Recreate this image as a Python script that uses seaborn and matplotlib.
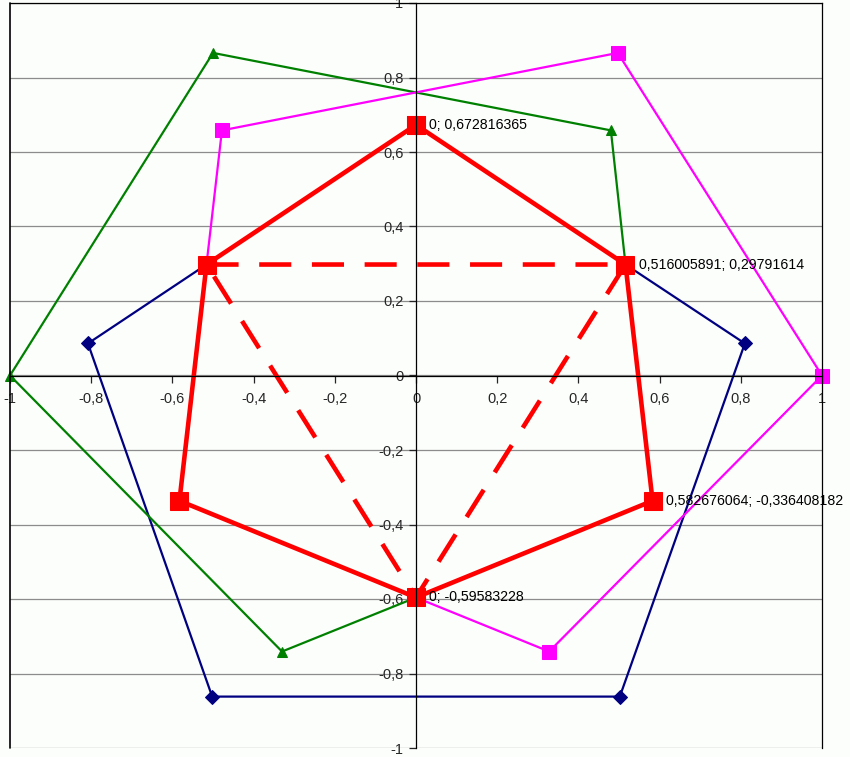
import matplotlib
matplotlib.use('Agg')
import matplotlib.pyplot as plt
import seaborn as sns
from matplotlib.ticker import FuncFormatter, MultipleLocator

# Data
navy_x = [-0.516, -0.808, -0.502, 0.502, 0.810, 0.516]
navy_y = [0.298, 0.086, -0.862, -0.862, 0.086, 0.298]

green_x = [0.516, 0.480, -0.500, -1.000, -0.330, 0.000]
green_y = [0.298, 0.658, 0.866, 0.000, -0.741, -0.596]

magenta_x = [-0.516, -0.478, 0.497, 1.000, 0.328, 0.000]
magenta_y = [0.298, 0.658, 0.866, 0.000, -0.741, -0.596]

red_x = [0.0, 0.516005891, 0.582676064, 0.0, -0.582676064, -0.516005891, 0.0]
red_y = [0.672816365, 0.29791614, -0.336408182, -0.59583228, -0.336408182, 0.29791614, 0.672816365]

tri_x = [-0.516005891, 0.516005891, 0.0, -0.516005891]
tri_y = [0.29791614, 0.29791614, -0.59583228, 0.29791614]

label_pts = [(0.0, 0.672816365), (0.516005891, 0.29791614),
             (0.582676064, -0.336408182), (0.0, -0.59583228)]

sns.set_style('white')
plt.rcParams['font.family'] = ['Liberation Sans', 'DejaVu Sans']

bg = '#fbfefb'
fig = plt.figure(figsize=(8.5, 7.57), dpi=100, facecolor=bg)
ax = fig.add_axes([10 / 850, 9 / 757, 812 / 850, 745 / 757])
ax.set_facecolor(bg)

# Gridlines (horizontal only)
ax.yaxis.set_major_locator(MultipleLocator(0.2))
ax.xaxis.set_major_locator(MultipleLocator(0.2))
ax.grid(axis='y', color='#8c8c8c', linewidth=0.9)
ax.grid(axis='x', visible=False)
ax.set_axisbelow(True)

# Series
sns.lineplot(x=navy_x, y=navy_y, sort=False, estimator=None, ax=ax, color='#000080',
             linewidth=1.6, marker='D', markersize=7.5, markeredgecolor='#000080', clip_on=False)
sns.lineplot(x=green_x, y=green_y, sort=False, estimator=None, ax=ax, color='#008000',
             linewidth=1.6, marker='^', markersize=7, markeredgecolor='#008000', clip_on=False)
sns.lineplot(x=magenta_x, y=magenta_y, sort=False, estimator=None, ax=ax, color='#ff00ff',
             linewidth=1.6, marker='s', markersize=10, markeredgecolor='#ff00ff', clip_on=False)
sns.lineplot(x=tri_x, y=tri_y, sort=False, estimator=None, ax=ax, color='#ff0000',
             linewidth=3.3, clip_on=False).lines[-1].set_dashes((7, 4.5))
sns.lineplot(x=red_x, y=red_y, sort=False, estimator=None, ax=ax, color='#ff0000',
             linewidth=3.3, marker='s', markersize=13, markeredgecolor='#ff0000', clip_on=False)


def num(v):
    return '0' if v == 0 else str(v).replace('.', ',')


for px, py in label_pts:
    ax.annotate('{}; {}'.format(num(px), num(py)),
                xy=(px, py), xytext=(9.5, 0), textcoords='offset points',
                va='center', ha='left', fontsize=10.2, color='black')

ax.set_xlim(-1, 1)
ax.set_ylim(-1, 1)

# Axes crossing at the origin, frame on the other sides
ax.spines['left'].set_position(('data', 0))
ax.spines['bottom'].set_position(('data', 0))
for s in ['left', 'bottom', 'top', 'right']:
    ax.spines[s].set_color('black')
    ax.spines[s].set_linewidth(0.9)
ax.plot([0, 0], [0, 1], transform=ax.transAxes, color='black', linewidth=1.2, clip_on=False)

fmt = FuncFormatter(lambda v, p: ('%g' % round(v, 1)).replace('.', ',') if abs(v) > 1e-9 else '0')
ax.xaxis.set_major_formatter(fmt)
ax.yaxis.set_major_formatter(fmt)
ax.tick_params(axis='x', direction='out', length=5, width=0.9, pad=7, labelsize=10.5, bottom=True)
ax.tick_params(axis='y', direction='out', length=5, width=0.9, pad=4, labelsize=10.5, left=True)
ax.set_xlabel('')
ax.set_ylabel('')

fig.savefig('out.png', dpi=100, facecolor=bg)
